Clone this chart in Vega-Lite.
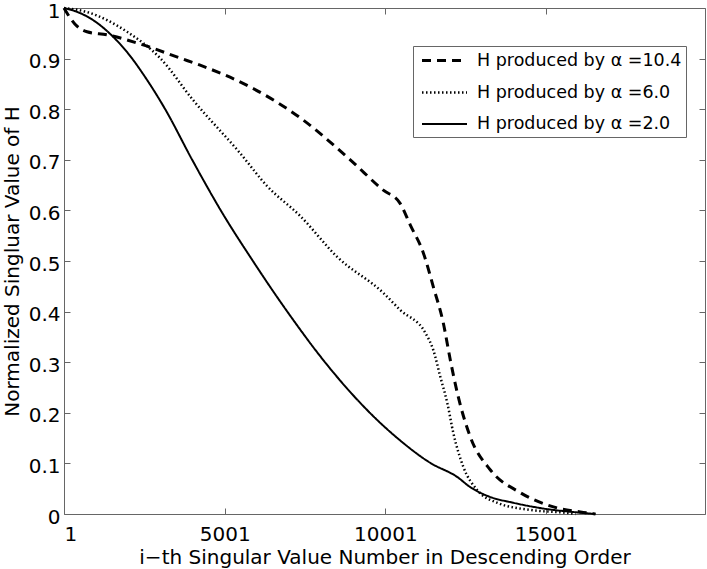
{
  "$schema": "https://vega.github.io/schema/vega-lite/v6.json",
  "width": 641,
  "height": 506,
  "autosize": {"type": "none"},
  "padding": {"left": 64, "top": 8, "right": 2, "bottom": 55},
  "background": "white",
  "config": {
    "view": {"stroke": "#666", "strokeWidth": 1},
    "font": "DejaVu Sans",
    "axis": {
      "domain": false,
      "grid": false,
      "tickColor": "#666",
      "tickSize": -6,
      "labelFont": "DejaVu Sans",
      "labelFontSize": 20,
      "labelColor": "black",
      "titleFont": "DejaVu Sans",
      "titleFontSize": 20,
      "titleFontWeight": "normal",
      "titleColor": "black"
    }
  },
  "data": {
    "values": [
      {"s": "H produced by α =10.4", "x": 1, "y": 1.0},
      {"s": "H produced by α =10.4", "x": 94, "y": 0.99},
      {"s": "H produced by α =10.4", "x": 406, "y": 0.964},
      {"s": "H produced by α =10.4", "x": 717, "y": 0.953},
      {"s": "H produced by α =10.4", "x": 1340, "y": 0.947},
      {"s": "H produced by α =10.4", "x": 2462, "y": 0.927},
      {"s": "H produced by α =10.4", "x": 3614, "y": 0.901},
      {"s": "H produced by α =10.4", "x": 4238, "y": 0.887},
      {"s": "H produced by α =10.4", "x": 5795, "y": 0.844},
      {"s": "H produced by α =10.4", "x": 7352, "y": 0.783},
      {"s": "H produced by α =10.4", "x": 8910, "y": 0.7},
      {"s": "H produced by α =10.4", "x": 9938, "y": 0.64},
      {"s": "H produced by α =10.4", "x": 10450, "y": 0.615},
      {"s": "H produced by α =10.4", "x": 10779, "y": 0.571},
      {"s": "H produced by α =10.4", "x": 11184, "y": 0.516},
      {"s": "H produced by α =10.4", "x": 11495, "y": 0.449},
      {"s": "H produced by α =10.4", "x": 11807, "y": 0.377},
      {"s": "H produced by α =10.4", "x": 12025, "y": 0.304},
      {"s": "H produced by α =10.4", "x": 12243, "y": 0.239},
      {"s": "H produced by α =10.4", "x": 12648, "y": 0.152},
      {"s": "H produced by α =10.4", "x": 13271, "y": 0.087},
      {"s": "H produced by α =10.4", "x": 14205, "y": 0.042},
      {"s": "H produced by α =10.4", "x": 15233, "y": 0.014},
      {"s": "H produced by α =10.4", "x": 16074, "y": 0.004},
      {"s": "H produced by α =10.4", "x": 16541, "y": 0.0},
      {"s": "H produced by α =6.0", "x": 1, "y": 1.0},
      {"s": "H produced by α =6.0", "x": 717, "y": 0.992},
      {"s": "H produced by α =6.0", "x": 1963, "y": 0.953},
      {"s": "H produced by α =6.0", "x": 2992, "y": 0.901},
      {"s": "H produced by α =6.0", "x": 4019, "y": 0.818},
      {"s": "H produced by α =6.0", "x": 5483, "y": 0.713},
      {"s": "H produced by α =6.0", "x": 6324, "y": 0.648},
      {"s": "H produced by α =6.0", "x": 7352, "y": 0.589},
      {"s": "H produced by α =6.0", "x": 8505, "y": 0.508},
      {"s": "H produced by α =6.0", "x": 9938, "y": 0.437},
      {"s": "H produced by α =6.0", "x": 10467, "y": 0.403},
      {"s": "H produced by α =6.0", "x": 11246, "y": 0.358},
      {"s": "H produced by α =6.0", "x": 11495, "y": 0.324},
      {"s": "H produced by α =6.0", "x": 11713, "y": 0.271},
      {"s": "H produced by α =6.0", "x": 11931, "y": 0.219},
      {"s": "H produced by α =6.0", "x": 12118, "y": 0.16},
      {"s": "H produced by α =6.0", "x": 12430, "y": 0.093},
      {"s": "H produced by α =6.0", "x": 12866, "y": 0.047},
      {"s": "H produced by α =6.0", "x": 13489, "y": 0.022},
      {"s": "H produced by α =6.0", "x": 14517, "y": 0.008},
      {"s": "H produced by α =6.0", "x": 15670, "y": 0.002},
      {"s": "H produced by α =6.0", "x": 15919, "y": 0.0},
      {"s": "H produced by α =2.0", "x": 1, "y": 1.0},
      {"s": "H produced by α =2.0", "x": 500, "y": 0.99},
      {"s": "H produced by α =2.0", "x": 1000, "y": 0.972},
      {"s": "H produced by α =2.0", "x": 1500, "y": 0.945},
      {"s": "H produced by α =2.0", "x": 2000, "y": 0.91},
      {"s": "H produced by α =2.0", "x": 2500, "y": 0.866},
      {"s": "H produced by α =2.0", "x": 3150, "y": 0.8},
      {"s": "H produced by α =2.0", "x": 3990, "y": 0.7},
      {"s": "H produced by α =2.0", "x": 4880, "y": 0.6},
      {"s": "H produced by α =2.0", "x": 5880, "y": 0.5},
      {"s": "H produced by α =2.0", "x": 6950, "y": 0.4},
      {"s": "H produced by α =2.0", "x": 8250, "y": 0.29},
      {"s": "H produced by α =2.0", "x": 9844, "y": 0.18},
      {"s": "H produced by α =2.0", "x": 10375, "y": 0.15},
      {"s": "H produced by α =2.0", "x": 11402, "y": 0.101},
      {"s": "H produced by α =2.0", "x": 12243, "y": 0.073},
      {"s": "H produced by α =2.0", "x": 12648, "y": 0.053},
      {"s": "H produced by α =2.0", "x": 13209, "y": 0.035},
      {"s": "H produced by α =2.0", "x": 14000, "y": 0.022},
      {"s": "H produced by α =2.0", "x": 15000, "y": 0.01},
      {"s": "H produced by α =2.0", "x": 16000, "y": 0.003},
      {"s": "H produced by α =2.0", "x": 16541, "y": 0.0}
    ]
  },
  "resolve": {"axis": {"x": "independent", "y": "independent"}},
  "layer": [
    {
      "mark": {"type": "line", "color": "black", "interpolate": "monotone"},
      "encoding": {
        "x": {
          "field": "x", "type": "quantitative",
          "scale": {"domain": [1, 19950], "nice": false, "zero": false},
          "axis": {"orient": "bottom", "values": [1, 5001, 10001, 15001], "format": "d", "labelPadding": 16, "title": "i−th Singular Value Number in Descending Order", "titlePadding": 3}
        },
        "y": {
          "field": "y", "type": "quantitative",
          "scale": {"domain": [0, 1], "nice": false},
          "axis": {"orient": "left", "values": [0, 0.1, 0.2, 0.3, 0.4, 0.5, 0.6, 0.7, 0.8, 0.9, 1], "format": "~g", "labelPadding": 10, "labelOffset": 3, "title": "Normalized Singluar Value of H", "titlePadding": 6}
        },
        "strokeDash": {
          "field": "s", "type": "nominal",
          "scale": {"domain": ["H produced by α =10.4", "H produced by α =6.0", "H produced by α =2.0"], "range": [[9, 6], [1.5, 2.5], [1, 0]]},
          "legend": {
            "title": null,
            "orient": "none",
            "legendX": 349,
            "legendY": 38,
            "symbolType": "M-0.611,0H4.389",
            "symbolSize": 324,
            "symbolStrokeWidth": 3,
            "symbolStrokeColor": "black",
            "labelFont": "DejaVu Sans",
            "labelFontSize": 17.5,
            "labelColor": "black",
            "labelOffset": 39,
            "rowPadding": 13,
            "padding": 4,
            "strokeColor": "#666",
            "fillColor": "white",
            "labelLimit": 300
          }
        },
        "strokeWidth": {
          "field": "s", "type": "nominal",
          "scale": {"domain": ["H produced by α =10.4", "H produced by α =6.0", "H produced by α =2.0"], "range": [3, 2, 2.5]},
          "legend": null
        }
      }
    },
    {
      "mark": {"type": "line", "opacity": 0},
      "encoding": {
        "x": {
          "field": "x", "type": "quantitative",
          "axis": {"orient": "top", "values": [1, 5001, 10001, 15001], "labels": false, "title": null}
        },
        "y": {
          "field": "y", "type": "quantitative",
          "axis": {"orient": "right", "values": [0, 0.1, 0.2, 0.3, 0.4, 0.5, 0.6, 0.7, 0.8, 0.9, 1], "labels": false, "title": null}
        },
        "detail": {"field": "s"}
      }
    }
  ]
}
